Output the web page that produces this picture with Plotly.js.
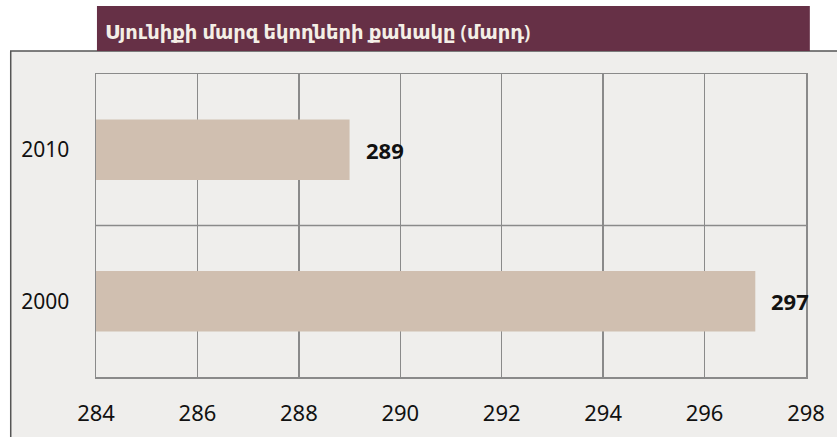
<!DOCTYPE html>
<html><head><meta charset="utf-8">
<script src="https://cdn.plot.ly/plotly-3.0.1.min.js"></script>
<style>html,body{margin:0;padding:0;background:#fff;}</style>
</head><body>
<div id="chart" style="width:837px;height:437px;"></div>
<script>
const chartTitle = "Սյունիքի մարզ եկողների քանակը (մարդ)";
const years = ["2000", "2010"];
const values = [297, 289];
const xTicks = [284, 286, 288, 290, 292, 294, 296, 298];

const FONT = "Noto Sans, DejaVu Sans, sans-serif";

const trace = {
  type: "bar",
  orientation: "h",
  y: years,
  x: values,
  marker: {color: "#d0bfb0", line: {width: 0}},
  width: 0.4,
  hoverinfo: "none"
};

// annotation y given as category index (position in categoryarray)
const annotations = years.map((y, i) => ({
  x: values[i], y: i, xref: "x", yref: "y",
  text: "<b>" + values[i] + "</b>",
  showarrow: false, xanchor: "left", xshift: 14,
  font: {family: FONT, size: 22, color: "#111"}
}));

const layout = {
  width: 837, height: 437,
  margin: {l: 96, r: 31, t: 74, b: 60},
  paper_bgcolor: "#ffffff",
  plot_bgcolor: "#efeeec",
  showlegend: false,
  title: {
    text: chartTitle,
    x: 105/837, xanchor: "left",
    y: 1 - 32/437, yanchor: "middle",
    font: {family: FONT, size: 19.5, weight: 600, color: "#f4efe6"}
  },
  xaxis: {
    range: [284, 298],
    tickvals: xTicks,
    ticktext: xTicks.map(String),
    showgrid: true, gridcolor: "#8a8a8a", gridwidth: 1.5,
    showline: true, linecolor: "#8a8a8a", linewidth: 1.5, mirror: true,
    zeroline: false, ticks: "",
    ticklabelstandoff: 16,
    tickfont: {family: FONT, size: 22, color: "#111"},
    fixedrange: true
  },
  yaxis: {
    type: "category",
    categoryorder: "array", categoryarray: years,
    range: [-0.5, 1.5],
    showgrid: false,
    showline: true, linecolor: "#8a8a8a", linewidth: 1.5, mirror: true,
    zeroline: false, ticks: "",
    ticklabelstandoff: 21,
    tickfont: {family: FONT, size: 21, color: "#111"},
    fixedrange: true
  },
  annotations: annotations,
  shapes: [
    {type: "rect", xref: "paper", yref: "paper", layer: "below",
     x0: -89/741, x1: 828/741, y0: -0.5, y1: 1 + 23/303,
     fillcolor: "#efeeec", line: {color: "#555555", width: 1.5}},
    {type: "rect", xref: "paper", yref: "paper", layer: "below",
     x0: 1/741, x1: 745/741, y0: 1 + 23/303, y1: 1 + 68/303,
     fillcolor: "#663046", line: {width: 0}},
    {type: "line", xref: "paper", yref: "y", layer: "below",
     x0: 0, x1: 1, y0: 0.5, y1: 0.5,
     line: {color: "#8a8a8a", width: 1.5}}
  ]
};

Plotly.newPlot("chart", [trace], layout, {displayModeBar: false, staticPlot: true});
</script>
</body></html>
